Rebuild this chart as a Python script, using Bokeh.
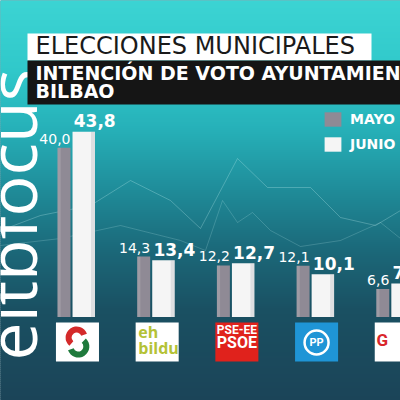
import numpy as np
from bokeh.plotting import figure
from bokeh.models import Range1d, ColumnDataSource, Legend, LegendItem
from bokeh.transform import dodge
from bokeh.core.properties import value
from bokeh.embed import file_html
from bokeh.resources import INLINE

# ---------------- data ----------------
parties = ["EAJ-PNV", "EH Bildu", "PSE-EE (PSOE)", "PP", "Otros"]
mayo = [40.0, 14.3, 12.2, 12.1, 6.6]
junio = [43.8, 13.4, 12.7, 10.1, 7.9]
series_names = ["MAYO", "JUNIO"]
title_1 = "ELECCIONES MUNICIPALES"
title_2 = "INTENCIÓN DE VOTO AYUNTAMIENTO"
title_3 = "BILBAO"
brand = "eitbfocus"


def fmt(v):
    return f"{v:.1f}".replace(".", ",")


# ---------------- figure ----------------
p = figure(width=400, height=400,
           x_range=Range1d(-0.9097, 4.1091), y_range=Range1d(-19.74, 74.82),
           x_axis_type=None, y_axis_type=None, toolbar_location=None,
           output_backend="svg", min_border=0, outline_line_color=None)
p.background_fill_color = "#1c4c5e"
p.border_fill_color = "#1c4c5e"
# helper ranges for decoration (reference pixel coordinates, y measured from bottom)
p.extra_x_ranges = {"sx": Range1d(0, 400)}
p.extra_y_ranges = {"sy": Range1d(0, 400)}
S = dict(x_range_name="sx", y_range_name="sy")

# background vertical gradient
stops_y = [0, 70, 130, 190, 250, 310, 400]
stops_c = [(60, 212, 211), (48, 200, 202), (38, 176, 184), (31, 140, 153),
           (27, 104, 121), (26, 80, 98), (27, 68, 88)]
ys = np.arange(0, 400, 2)
cols = []
for yy in ys + 1:
    rgb = [int(round(np.interp(yy, stops_y, [c[k] for c in stops_c]))) for k in range(3)]
    cols.append("#%02x%02x%02x" % tuple(rgb))
p.quad(left=0, right=400, top=400 - ys, bottom=400 - (ys + 2),
       fill_color=cols, line_color=cols, line_width=1, **S)

# faint decorative lines
deco_a_x = [0, 40, 90, 130, 170, 200, 237, 267, 310, 340, 375, 400]
deco_a_y = [230, 215, 205, 180, 200, 228, 158, 187, 187, 217, 225, 210]
deco_b_x = [0, 60, 120, 180, 205, 222, 237, 252, 270, 300, 340, 380, 400]
deco_b_y = [245, 238, 225, 240, 250, 200, 222, 212, 230, 246, 240, 222, 238]
p.line(deco_a_x, [400 - v for v in deco_a_y], line_color="#c8f6f6", line_alpha=0.28, line_width=1, **S)
p.line(deco_b_x, [400 - v for v in deco_b_y], line_color="#c8f6f6", line_alpha=0.2, line_width=1, **S)

# vertical brand
p.text(x=[10], y=[400 - 360], text=[brand], angle=np.pi / 2,
       text_font=value("Open Sans"), text_font_size="68px", text_color="white",
       text_align="left", text_baseline="middle", **S)

# title boxes
p.quad(left=[27], right=[371], top=[400 - 33], bottom=[400 - 60],
       fill_color="white", line_color=None, **S)
p.quad(left=[27], right=[400], top=[400 - 60], bottom=[400 - 104],
       fill_color="#151515", line_color=None, **S)
p.text(x=[35], y=[400 - 45.5], text=[title_1], text_font=value("DejaVu Sans"),
       text_font_size="24px", text_color="#1a1a1a", text_baseline="middle", **S)
p.text(x=[35, 35], y=[400 - 72.5, 400 - 90.5], text=[title_2, title_3],
       text_font=value("DejaVu Sans"), text_font_style="bold", text_font_size="19px",
       text_color="white", text_baseline="middle", **S)

# ---------------- bars ----------------
src = ColumnDataSource(dict(
    idx=list(range(len(parties))), party=parties, mayo=mayo, junio=junio,
    mayo_lbl=[fmt(v) for v in mayo], junio_lbl=[fmt(v) for v in junio]))

g_off, g_w = -0.113, 0.163
w_off, w_w = 0.135, 0.282
rm = p.vbar(x=dodge("idx", g_off, range=p.x_range), top="mayo", bottom=0, width=g_w,
            source=src, fill_color="#8f8a95", line_color=None)
rj = p.vbar(x=dodge("idx", w_off, range=p.x_range), top="junio", bottom=0, width=w_w,
            source=src, fill_color="#f5f5f5", line_color=None)
# subtle shading
p.vbar(x=dodge("idx", g_off - g_w / 2 + 0.02, range=p.x_range), top="mayo", bottom=0, width=0.04,
       source=src, fill_color="white", fill_alpha=0.15, line_color=None)
p.vbar(x=dodge("idx", w_off + w_w / 2 - 0.025, range=p.x_range), top="junio", bottom=0, width=0.05,
       source=src, fill_color="#9aa0a6", fill_alpha=0.25, line_color=None)

p.text(x=dodge("idx", g_off + g_w / 2, range=p.x_range), y="mayo", text="mayo_lbl",
       source=src, text_align="right", text_baseline="middle", y_offset=-9,
       text_font=value("DejaVu Sans"), text_font_size="14px", text_color="white")
p.text(x=dodge("idx", w_off - w_w / 2 + 0.015, range=p.x_range), y="junio", text="junio_lbl",
       source=src, text_align="left", text_baseline="middle", y_offset=-11,
       text_font=value("DejaVu Sans"), text_font_style="bold", text_font_size="17px",
       text_color="white")

legend = Legend(items=[LegendItem(label=series_names[0], renderers=[rm]),
                       LegendItem(label=series_names[1], renderers=[rj])],
                location=(322, 247), orientation="vertical",
                glyph_width=21, glyph_height=18, label_standoff=7, spacing=7,
                padding=0, margin=0, border_line_color=None, background_fill_alpha=0,
                label_text_color="white", label_text_font_style="bold",
                label_text_font_size="14px", label_text_font="DejaVu Sans", label_height=18)
p.add_layout(legend)

# ---------------- party logos (decoration) ----------------
logo_fill = ["white", "white", "#e0221c", "#1f95d6", "white"]
lsrc = ColumnDataSource(dict(idx=list(range(len(parties))), fill=logo_fill))
lx = dodge("idx", 0.056, range=p.x_range)
p.rect(x=lx, y=400 - 341.5, width=0.54, height=39, source=lsrc,
       fill_color="fill", line_color=None, y_range_name="sy")

# PNV
p.annular_wedge(x=[0.045], y=[400 - 337], inner_radius=5, outer_radius=11,
                inner_radius_units="screen", outer_radius_units="screen",
                start_angle=0.35, end_angle=4.0, fill_color="#d42a2a", line_color=None,
                y_range_name="sy")
p.annular_wedge(x=[0.067], y=[400 - 346], inner_radius=5, outer_radius=11,
                inner_radius_units="screen", outer_radius_units="screen",
                start_angle=3.5, end_angle=7.1, fill_color="#1f7a3c", line_color=None,
                y_range_name="sy")
# EH Bildu
p.text(x=[1 - 0.18, 1 - 0.18], y=[400 - 331, 400 - 347], text=["eh", "bildu"],
       text_font=value("Open Sans"), text_font_style="bold", text_font_size="16px",
       text_color="#b4c236", text_align="left", text_baseline="middle", y_range_name="sy")
# PSOE
p.text(x=[2.056], y=[400 - 329.5], text=["PSE-EE"], text_font=value("Roboto"),
       text_font_style="bold", text_font_size="12px", text_color="white",
       text_align="center", text_baseline="middle", y_range_name="sy")
p.text(x=[2.056], y=[400 - 342], text=["PSOE"], text_font=value("Roboto"),
       text_font_style="bold", text_font_size="16px", text_color="white",
       text_align="center", text_baseline="middle", y_range_name="sy")
# PP
p.scatter(x=[3.056], y=[400 - 342], size=24, marker="circle", fill_color=None,
          line_color="white", line_width=2.5, y_range_name="sy")
p.text(x=[3.056], y=[400 - 342], text=["PP"], text_font=value("Roboto"),
       text_font_style="bold", text_font_size="11px", text_color="white",
       text_align="center", text_baseline="middle", y_range_name="sy")
# Otros
p.text(x=[4 - 0.12], y=[400 - 339.5], text=["G"], text_font=value("Roboto"),
       text_font_style="bold", text_font_size="17px", text_color="#d9262b",
       text_align="center", text_baseline="middle", y_range_name="sy")

open("out.html", "w").write(file_html(p, INLINE))
